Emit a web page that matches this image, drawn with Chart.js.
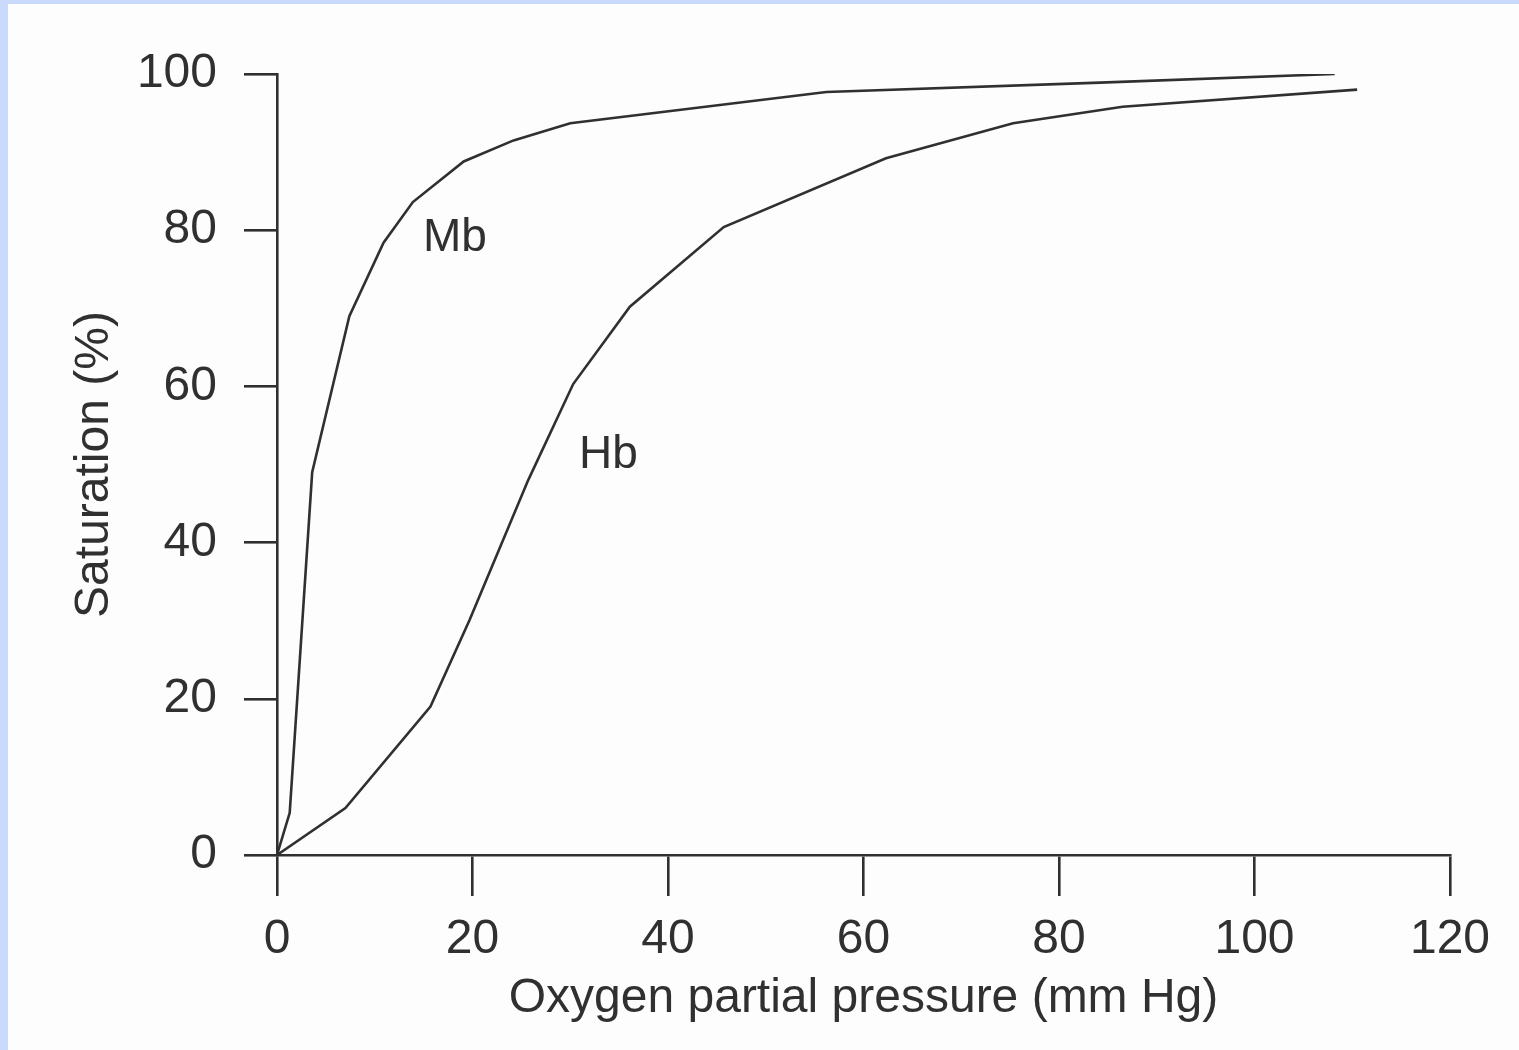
<!DOCTYPE html>
<html>
<head>
<meta charset="utf-8">
<title>Mb / Hb</title>
<script src="https://cdn.jsdelivr.net/npm/chart.js@4.4.1/dist/chart.umd.min.js"></script>
<style>
    html, body { margin: 0; padding: 0; background: #c9dafc; overflow: hidden; }
    #hoja { position: absolute; left: 8px; top: 4px; width: 1511px; height: 1046px; background: #fdfdfd; }
</style>
</head>
<body>
<div id="hoja"><canvas id="curvas" width="1511" height="1046"></canvas></div>
<script>
// datos
const ticksX = [0, 20, 40, 60, 80, 100, 120];
const ticksY = [0, 20, 40, 60, 80, 100];

const mbPO2 = [0, 1.3, 3.6, 7.4, 10.9, 13.9, 19.1, 24.2, 30.0, 56.2, 84.2, 108.2];
const mbSat = [0, 5.4, 49, 69, 78.4, 83.6, 88.8, 91.5, 93.7, 97.7, 98.9, 100];

const hbPO2 = [0, 7, 15.7, 19.7, 25.7, 30.3, 36.1, 45.7, 62.3, 75.3, 86.5, 110.5];
const hbSat = [0, 6, 19, 30.1, 48, 60.3, 70.2, 80.4, 89.2, 93.7, 95.8, 98];

const etiquetas = ["Mb", "Hb"];
const etiquetaX = [18.2, 33.9];
const etiquetaY = [79, 51.2];

const tinta = "#303030";
const fuente = "'Liberation Sans', Arial, sans-serif";

// rotulos Mb y Hb junto a cada curva
const rotulos = {
    id: "rotulos",
    afterDatasetsDraw(chart) {
        const ctx = chart.ctx;
        const sx = chart.scales.x, sy = chart.scales.y;
        ctx.save();
        ctx.fillStyle = tinta;
        ctx.font = "46px " + fuente;
        ctx.textAlign = "center";
        ctx.textBaseline = "middle";
        etiquetas.forEach((t, i) => {
            ctx.fillText(t, sx.getPixelForValue(etiquetaX[i]), sy.getPixelForValue(etiquetaY[i]));
        });
        ctx.restore();
    }
};

const aPuntos = (xs, ys) => xs.map((x, i) => ({ x: x, y: ys[i] }));

const config = {
    type: "line",
    data: {
        datasets: [
            {
                label: "Mb",
                data: aPuntos(mbPO2, mbSat),
                borderColor: tinta,
                borderWidth: 2.6,
                pointRadius: 0,
                tension: 0,
                fill: false,
            },
            {
                label: "Hb",
                data: aPuntos(hbPO2, hbSat),
                borderColor: tinta,
                borderWidth: 2.6,
                pointRadius: 0,
                tension: 0,
                fill: false,
            },
        ],
    },
    options: {
        responsive: false,
        animation: false,
        layout: { padding: { left: 0, top: 70, right: 69, bottom: 0 } },
        plugins: {
            legend: { display: false },
            tooltip: { enabled: false },
        },
        scales: {
            x: {
                type: "linear",
                min: 0,
                max: 120,
                afterBuildTicks: (s) => { s.ticks = ticksX.map(v => ({ value: v })); },
                afterFit: (s) => { s.height = 195; },
                border: { color: tinta, width: 2.6 },
                grid: { drawOnChartArea: false, drawTicks: true, tickLength: 41, color: tinta, lineWidth: 2.6 },
                ticks: { color: tinta, font: { family: fuente, size: 48 }, padding: 15, maxRotation: 0 },
                title: {
                    display: true,
                    text: "Oxygen partial pressure (mm Hg)",
                    color: tinta,
                    font: { family: fuente, size: 48 },
                    padding: { top: 0, bottom: 22 },
                },
            },
            y: {
                min: 0,
                max: 100,
                afterBuildTicks: (s) => { s.ticks = ticksY.map(v => ({ value: v })); },
                afterFit: (s) => { s.width = 269; },
                border: { color: tinta, width: 2.6 },
                grid: { drawOnChartArea: false, drawTicks: true, tickLength: 33, color: tinta, lineWidth: 2.6 },
                ticks: { color: tinta, font: { family: fuente, size: 48 }, padding: 27 },
                title: {
                    display: true,
                    text: "Saturation (%)",
                    color: tinta,
                    font: { family: fuente, size: 48 },
                    padding: { top: 58, bottom: 0 },
                },
            },
        },
    },
    plugins: [rotulos],
};

const grafica = new Chart(document.getElementById("curvas"), config);
</script>
</body>
</html>
